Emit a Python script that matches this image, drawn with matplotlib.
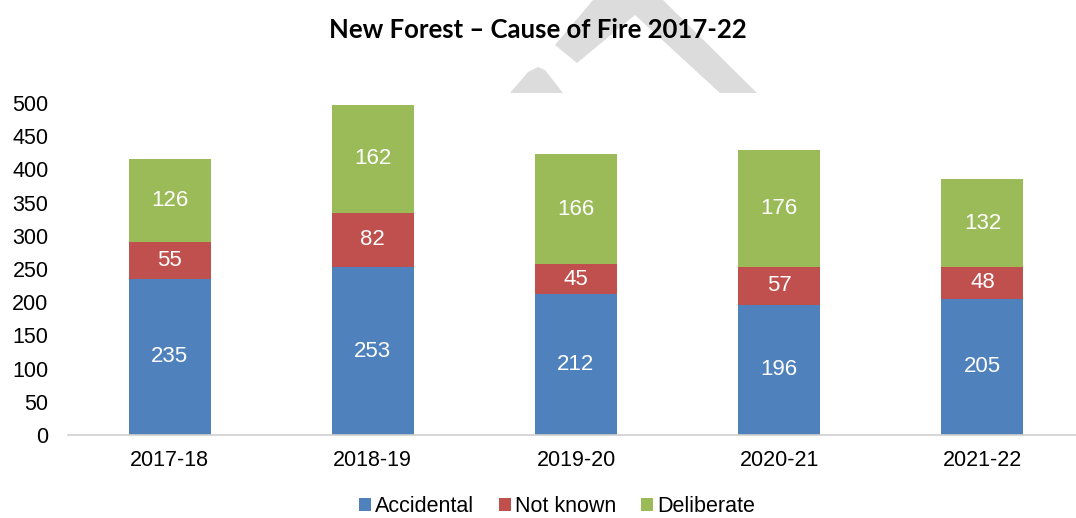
import matplotlib.pyplot as plt
from matplotlib.patches import Polygon
import numpy as np

# Data
years = ['2017-18', '2018-19', '2019-20', '2020-21', '2021-22']
accidental = [235, 253, 212, 196, 205]
not_known = [55, 82, 45, 57, 48]
deliberate = [126, 162, 166, 176, 132]

plt.rcParams['font.family'] = ['Liberation Sans', 'DejaVu Sans']

W, H = 1076, 518
fig = plt.figure(figsize=(W / 100, H / 100), dpi=100)
ax = fig.add_axes([68 / W, 1 - 435 / H, 1016 / W, 332 / H])


def px(pts):
    return [(x / W, 1 - y / H) for x, y in pts]


# faint watermark pieces behind the chart
for shape in ([(555, 45), (593, 0), (663, 0), (757, 93), (720, 93), (635, 15), (577, 63)],
              [(510, 93), (528, 72), (538, 67), (545, 70), (563, 93)]):
    fig.patches.append(Polygon(px(shape), closed=True, transform=fig.transFigure,
                               facecolor='#dcdcdc', edgecolor='none', zorder=0))

x = np.arange(len(years))
w = 0.404
colors = ['#4F81BD', '#C0504D', '#9BBB59']
bottom = np.zeros(len(years))
for vals, c, name in zip([accidental, not_known, deliberate], colors,
                         ['Accidental', 'Not known', 'Deliberate']):
    ax.bar(x, vals, w, bottom=bottom, color=c, label=name, zorder=2)
    for xi, b, v in zip(x, bottom, vals):
        ax.text(xi, b + v / 2, str(v), ha='center', va='center',
                color='white', fontsize=16, zorder=3)
    bottom += np.array(vals)

ax.set_xlim(-0.5, 4.5)
ax.set_ylim(0, 500)
ax.set_yticks(range(0, 501, 50))
ax.set_xticks(x)
ax.set_xticklabels(years)
ax.tick_params(axis='both', length=0, labelsize=15.5)
ax.tick_params(axis='x', pad=11)
ax.tick_params(axis='y', pad=14)
for s in ['top', 'right', 'left']:
    ax.spines[s].set_visible(False)
ax.spines['bottom'].set_color('#d0d0d0')
ax.spines['bottom'].set_linewidth(1.2)
ax.patch.set_alpha(0)

fig.text(0.5, 1 - 30 / H, 'New Forest \u2013 Cause of Fire 2017-22', ha='center', va='center',
         fontsize=18.5, fontweight='bold', family=['Lato', 'DejaVu Sans'])

fig.legend(loc='center', bbox_to_anchor=(557 / W, 1 - 507 / H), ncol=3, frameon=False,
           fontsize=15.5, handlelength=0.55, handleheight=0.55, handletextpad=0.2,
           columnspacing=1.15)

fig.savefig('out.png', dpi=100)
